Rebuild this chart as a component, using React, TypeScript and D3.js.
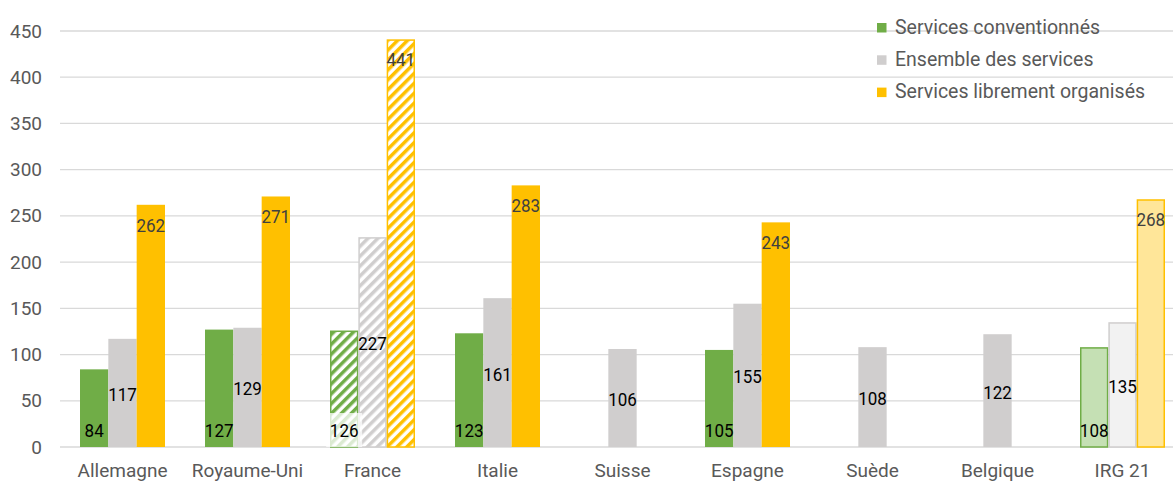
import React from "react";
import * as d3 from "d3";

const categories = ["Allemagne", "Royaume-Uni", "France", "Italie", "Suisse", "Espagne", "Suède", "Belgique", "IRG 21"];
const seriesNames = ["Services conventionnés", "Ensemble des services", "Services librement organisés"];
const conventionnes: (number | null)[] = [84, 127, 126, 123, null, 105, null, null, 108];
const ensemble: (number | null)[] = [117, 129, 227, 161, 106, 155, 108, 122, 135];
const libres: (number | null)[] = [262, 271, 441, 283, null, 243, null, null, 268];
const yTicks = [0, 50, 100, 150, 200, 250, 300, 350, 400, 450];

const W = 1173;
const H = 481;
const FONT = "Roboto, 'Noto Sans', Arial, sans-serif";

const baseColors = ["#70AD47", "#D0CECE", "#FFC000"];
const lightColors = ["#C5E0B4", "#F2F2F2", "#FFE699"];
const labelColors = ["#000000", "#000000", "#404040"];

export default function App() {
  const x = d3.scaleBand<string>().domain(categories).range([60, 60 + 125 * categories.length]).padding(0);
  const inner = d3.scaleBand<number>().domain([0, 1, 2]).range([20, 105]).padding(0);
  const y = d3.scaleLinear().domain([0, 450]).range([447, 31]);
  const values = [conventionnes, ensemble, libres];

  const bars: React.ReactNode[] = [];
  const labels: React.ReactNode[] = [];

  categories.forEach((cat, ci) => {
    values.forEach((arr, si) => {
      const v = arr[ci];
      if (v == null) return;
      const bx = (x(cat) as number) + (inner(si) as number);
      const bw = inner.bandwidth();
      const top = y(v);
      const h = y(0) - top;
      const hatched = cat === "France";
      const light = cat === "IRG 21";
      let fill = baseColors[si];
      let stroke = "none";
      if (hatched) {
        fill = `url(#hatch${si})`;
        stroke = baseColors[si];
      } else if (light) {
        fill = lightColors[si];
        stroke = si === 1 ? "#D0CECE" : baseColors[si];
      }
      bars.push(
        <rect
          key={`b-${ci}-${si}`}
          x={bx + (stroke !== "none" ? 0.75 : 0)}
          y={top + (stroke !== "none" ? 0.75 : 0)}
          width={bw - (stroke !== "none" ? 1.5 : 0)}
          height={h - (stroke !== "none" ? 0.75 : 0)}
          fill={fill}
          stroke={stroke}
          strokeWidth={stroke !== "none" ? 1.5 : 0}
        />
      );
      // label placement: inside base, center, inside end
      const cx = bx + bw / 2;
      let ly: number;
      if (si === 0) ly = y(0) - 10;
      else if (si === 1) ly = (top + y(0)) / 2 + 8;
      else ly = top + 27;
      if (hatched && si === 0) {
        labels.push(
          <rect key={`lb-${ci}-${si}`} x={cx - 18} y={y(0) - 34} width={36} height={34} fill="#ffffff" opacity={0.75} />
        );
      }
      labels.push(
        <text
          key={`l-${ci}-${si}`}
          transform={`translate(${cx},${ly}) scale(0.92,1)`}
          textAnchor="middle"
          fontFamily={FONT}
          fontSize={18.5}
          fill={labelColors[si]}
        >
          {v}
        </text>
      );
    });
  });

  return (
    <svg width={W} height={H} style={{ position: "absolute", left: 0, top: 0, background: "#fff" }}>
      <defs>
        {baseColors.map((c, i) => (
          <pattern
            key={i}
            id={`hatch${i}`}
            patternUnits="userSpaceOnUse"
            width={7}
            height={7}
            patternTransform="rotate(45)"
          >
            <rect x={0} y={0} width={7} height={7} fill="#ffffff" />
            <rect x={0} y={0} width={3.5} height={7} fill={c} />
          </pattern>
        ))}
      </defs>
      <rect x={0} y={0} width={W} height={H} fill="#ffffff" />
      {yTicks.map((t) => (
        <g key={t}>
          <line x1={60} x2={W} y1={y(t)} y2={y(t)} stroke="#D9D9D9" strokeWidth={1.3} />
          <text x={42} y={y(t) + 6.5} textAnchor="end" fontFamily={FONT} fontSize={19} fill="#595959">
            {t}
          </text>
        </g>
      ))}
      {bars}
      {labels}
      {categories.map((c) => (
        <text
          key={c}
          x={(x(c) as number) + x.bandwidth() / 2}
          y={477}
          textAnchor="middle"
          fontFamily={FONT}
          fontSize={19}
          fill="#595959"
        >
          {c}
        </text>
      ))}
      {seriesNames.map((s, i) => (
        <g key={s}>
          <rect x={877} y={23 + i * 32.3} width={9.5} height={9.5} fill={baseColors[i]} />
          <text x={895} y={33.5 + i * 32.3} fontFamily={FONT} fontSize={19.5} fill="#595959">
            {s}
          </text>
        </g>
      ))}
    </svg>
  );
}
